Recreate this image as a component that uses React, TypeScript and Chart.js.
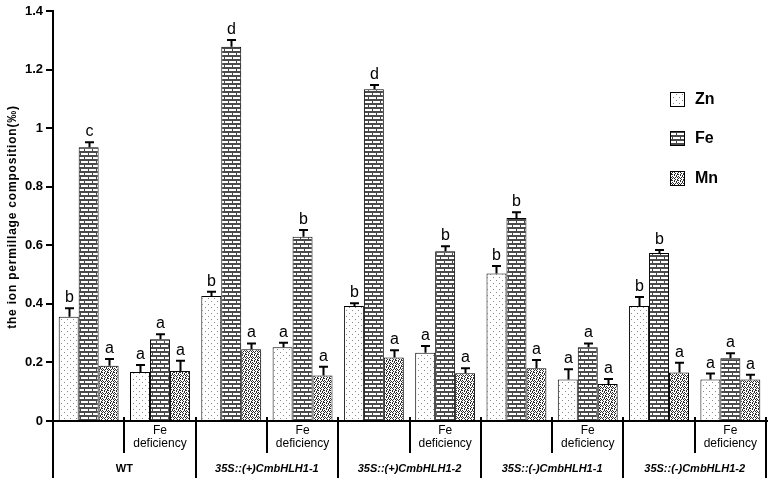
import React, { useEffect, useRef } from 'react';
import { Chart, registerables } from 'chart.js';

Chart.register(...registerables);

const categories = [
  'WT', 'WT Fe deficiency',
  '35S::(+)CmbHLH1-1', '35S::(+)CmbHLH1-1 Fe deficiency',
  '35S::(+)CmbHLH1-2', '35S::(+)CmbHLH1-2 Fe deficiency',
  '35S::(-)CmbHLH1-1', '35S::(-)CmbHLH1-1 Fe deficiency',
  '35S::(-)CmbHLH1-2', '35S::(-)CmbHLH1-2 Fe deficiency',
];
const groupLabels = ['WT', '35S::(+)CmbHLH1-1', '35S::(+)CmbHLH1-2', '35S::(-)CmbHLH1-1', '35S::(-)CmbHLH1-2'];
const subLabelLines = ['Fe', 'deficiency'];
const seriesNames = ['Zn', 'Fe', 'Mn'];

const znValues = [0.356, 0.167, 0.427, 0.252, 0.393, 0.233, 0.504, 0.142, 0.393, 0.142];
const feValues = [0.935, 0.279, 1.278, 0.629, 1.133, 0.58, 0.693, 0.252, 0.574, 0.214];
const mnValues = [0.189, 0.171, 0.245, 0.155, 0.217, 0.163, 0.18, 0.126, 0.166, 0.142];

const znErrors = [0.029, 0.024, 0.014, 0.015, 0.009, 0.023, 0.025, 0.035, 0.03, 0.02];
const feErrors = [0.017, 0.017, 0.023, 0.023, 0.014, 0.017, 0.02, 0.013, 0.01, 0.017];
const mnErrors = [0.023, 0.035, 0.02, 0.03, 0.025, 0.017, 0.028, 0.017, 0.033, 0.016];

const znLetters = ['b', 'a', 'b', 'a', 'b', 'a', 'b', 'a', 'b', 'a'];
const feLetters = ['c', 'a', 'd', 'b', 'd', 'b', 'b', 'a', 'b', 'a'];
const mnLetters = ['a', 'a', 'a', 'a', 'a', 'a', 'a', 'a', 'a', 'a'];

const yTicks = [0, 0.2, 0.4, 0.6, 0.8, 1, 1.2, 1.4];
const yTickLabels = ['0', '0.2', '0.4', '0.6', '0.8', '1', '1.2', '1.4'];
const yTitle = 'the ion permillage composition(‰)';

const allValues = [znValues, feValues, mnValues];
const allErrors = [znErrors, feErrors, mnErrors];
const allLetters = [znLetters, feLetters, mnLetters];

const FONT = 'Arial, "Liberation Sans", Helvetica, sans-serif';

function makePattern(kind: string): CanvasPattern | string {
  const c = document.createElement('canvas');
  const g = c.getContext('2d');
  if (!g) return '#ccc';
  if (kind === 'Zn') {
    c.width = 6; c.height = 6;
    g.fillStyle = '#ffffff'; g.fillRect(0, 0, 6, 6);
    g.fillStyle = '#8a8a8a';
    g.fillRect(1, 1, 1, 1);
    g.fillRect(4, 4, 1, 1);
  } else if (kind === 'Fe') {
    c.width = 8; c.height = 8;
    g.fillStyle = '#4a4a4a'; g.fillRect(0, 0, 8, 8);
    g.fillStyle = '#ffffff';
    g.fillRect(1, 1, 7, 2);
    g.fillRect(0, 5, 4, 2);
    g.fillRect(5, 5, 3, 2);
  } else {
    const rows = [
      '#.#..#',
      '..#.#.',
      '#...#.',
      '.#.#.#',
      '#.#...',
      '...#.#',
    ];
    c.width = 6; c.height = 6;
    g.fillStyle = '#ffffff'; g.fillRect(0, 0, 6, 6);
    g.fillStyle = '#2a2a2a';
    rows.forEach((r, y) => {
      for (let x = 0; x < r.length; x++) if (r[x] === '#') g.fillRect(x, y, 1, 1);
    });
  }
  const p = g.createPattern(c, 'repeat');
  return p || '#ccc';
}

export default function App() {
  const ref = useRef<HTMLCanvasElement | null>(null);

  useEffect(() => {
    document.body.style.margin = '0';
    const canvas = ref.current;
    if (!canvas) return;
    const patterns = seriesNames.map((n) => makePattern(n));

    const overlay = {
      id: 'overlay',
      afterDatasetsDraw(chart: any) {
        const ctx = chart.ctx as CanvasRenderingContext2D;
        const { left, right, bottom, top: areaTop } = chart.chartArea;
        const ys = chart.scales.y;
        const xs = chart.scales.x;
        ctx.save();
        chart.data.datasets.forEach((_ds: any, i: number) => {
          const meta = chart.getDatasetMeta(i);
          meta.data.forEach((el: any, j: number) => {
            const x = Math.round(el.x) + 0.5;
            const top = el.y;
            const yErr = ys.getPixelForValue(allValues[i][j] + allErrors[i][j]);
            ctx.strokeStyle = '#000';
            ctx.lineWidth = 2;
            ctx.beginPath();
            ctx.moveTo(x, top);
            ctx.lineTo(x, yErr);
            ctx.moveTo(x - 4.5, yErr);
            ctx.lineTo(x + 4.5, yErr);
            ctx.stroke();
            ctx.fillStyle = '#000';
            ctx.font = `16px ${FONT}`;
            ctx.textAlign = 'center';
            ctx.textBaseline = 'alphabetic';
            ctx.fillText(allLetters[i][j], x, yErr - 6);
          });
        });

        const c0 = xs.getPixelForValue(0);
        const c1 = xs.getPixelForValue(1);
        const half = (c1 - c0) / 2;
        ctx.strokeStyle = '#000';
        ctx.lineWidth = 2;
        ctx.beginPath();
        ctx.moveTo(left - 1, bottom);
        ctx.lineTo(right + 2, bottom);
        ctx.stroke();
        ctx.beginPath();
        ctx.moveTo(left, bottom);
        ctx.lineTo(left, 478);
        ctx.stroke();
        for (let k = 1; k <= categories.length; k++) {
          const bx = Math.round(xs.getPixelForValue(k - 1) + half);
          const long = k % 2 === 0;
          ctx.beginPath();
          ctx.moveTo(bx, bottom - 4);
          ctx.lineTo(bx, long ? 478 : 453);
          ctx.stroke();
        }
        ctx.fillStyle = '#000';
        ctx.textAlign = 'center';
        ctx.textBaseline = 'middle';
        for (let j = 1; j < categories.length; j += 2) {
          const cx = xs.getPixelForValue(j);
          ctx.font = `12px ${FONT}`;
          ctx.fillText(subLabelLines[0], cx, 431);
          ctx.fillText(subLabelLines[1], cx, 444);
        }
        groupLabels.forEach((lab, gi) => {
          const cx = xs.getPixelForValue(gi * 2) + half;
          ctx.font = gi === 0 ? `bold 11px ${FONT}` : `italic bold 11px ${FONT}`;
          ctx.fillText(lab, cx, 469);
        });

        ctx.save();
        ctx.translate(13, (areaTop + bottom) / 2 + 1);
        ctx.rotate(-Math.PI / 2);
        ctx.font = `bold 12px ${FONT}`;
        (ctx as any).letterSpacing = '0.8px';
        ctx.textAlign = 'center';
        ctx.textBaseline = 'middle';
        ctx.fillStyle = '#000';
        ctx.fillText(yTitle, 0, 0);
        ctx.restore();

        const lx = 670;
        const ly = [92, 131, 171];
        seriesNames.forEach((n, i) => {
          ctx.fillStyle = patterns[i] as any;
          ctx.fillRect(lx, ly[i], 15, 15);
          ctx.strokeStyle = '#000';
          ctx.lineWidth = 1;
          ctx.strokeRect(lx + 0.5, ly[i] + 0.5, 14, 14);
          ctx.fillStyle = '#000';
          ctx.font = `bold 16px ${FONT}`;
          ctx.textAlign = 'left';
          ctx.textBaseline = 'middle';
          ctx.fillText(n, lx + 25, ly[i] + 8);
        });
        ctx.restore();
      },
    };

    const chart = new Chart(canvas, {
      type: 'bar',
      data: {
        labels: categories,
        datasets: seriesNames.map((n, i) => ({
          label: n,
          data: allValues[i],
          backgroundColor: patterns[i] as any,
          borderColor: '#000',
          borderWidth: 1,
          borderSkipped: 'bottom',
          categoryPercentage: 0.84,
          barPercentage: 1,
        })),
      },
      options: {
        animation: false,
        responsive: true,
        maintainAspectRatio: false,
        layout: { padding: { left: 0, right: 4, top: 11, bottom: 59 } },
        plugins: {
          legend: { display: false },
          tooltip: { enabled: false },
        },
        scales: {
          x: {
            display: false,
          },
          y: {
            min: 0,
            max: 1.4,
            afterFit: (s: any) => { s.width = 53; },
            afterBuildTicks: (s: any) => { s.ticks = yTicks.map((v) => ({ value: v })); },
            ticks: {
              color: '#000',
              padding: 3,
              font: { family: FONT, size: 13, weight: 'bold' },
              callback: (_v: any, idx: number) => yTickLabels[idx],
            },
            grid: {
              drawOnChartArea: false,
              drawTicks: true,
              tickLength: 7,
              color: '#000',
              lineWidth: 2,
            },
            border: { display: true, color: '#000', width: 2 },
          },
        },
      },
      plugins: [overlay],
    });
    return () => chart.destroy();
  }, []);

  return (
    <div style={{ width: 770, height: 480, position: 'relative' }}>
      <canvas ref={ref} />
    </div>
  );
}
